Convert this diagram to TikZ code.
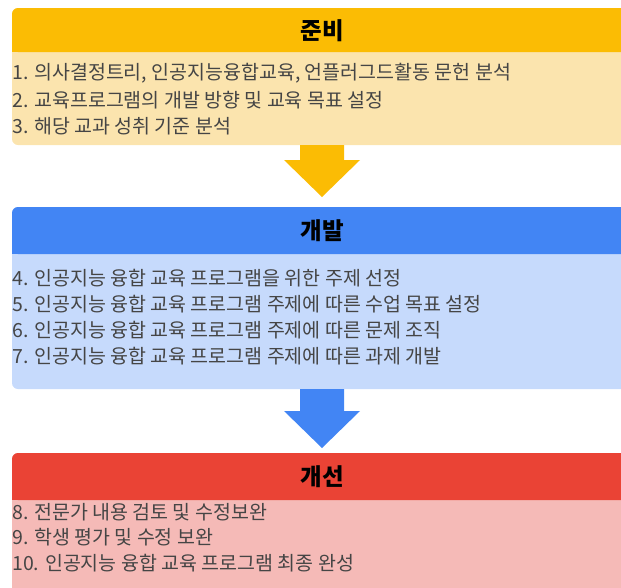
\documentclass[tikz,border=0pt]{standalone}
\usepackage{fontspec}
\setmainfont{Noto Sans CJK KR}
\definecolor{yhead}{HTML}{FBBC04}
\definecolor{ybody}{HTML}{FBE4AE}
\definecolor{bhead}{HTML}{4285F4}
\definecolor{bbody}{HTML}{C6DAFC}
\definecolor{rhead}{HTML}{EA4335}
\definecolor{rbody}{HTML}{F5BAB7}
\definecolor{txt}{HTML}{454545}
\tikzset{
  title/.style={font=\fontsize{23.5}{26}\selectfont\bfseries, text=black, inner sep=0pt},
  item/.style={font=\fontsize{19.5}{22}\selectfont, text=txt, anchor=west, inner sep=0pt},
}
\begin{document}
\begin{tikzpicture}[x=1pt,y=-1pt]
\useasboundingbox (0,0) rectangle (621,587);
\clip (0,0) rectangle (621,587);
% panel 1
\fill[ybody, rounded corners=6] (12,8) rectangle (650,145);
\fill[yhead, rounded corners=6] (12,8) rectangle (650,52);
\fill[yhead] (12,30) rectangle (650,52);
\node[title] (h1) at (322,31) {준비};
\node[item] (t1) at (12,73) {1. 의사결정트리, 인공지능융합교육, 언플러그드활동 문헌 분석};
\node[item] (t2) at (12,100) {2. 교육프로그램의 개발 방향 및 교육 목표 설정};
\node[item] (t3) at (12,126) {3. 해당 교과 성취 기준 분석};
% panel 2
\fill[bbody, rounded corners=6] (12,207) rectangle (650,389);
\fill[bhead, rounded corners=6] (12,207) rectangle (650,254);
\fill[bhead] (12,230) rectangle (650,254);
\node[title] (h2) at (322,231) {개발};
\node[item] (t4) at (12,278) {4. 인공지능 융합 교육 프로그램을 위한 주제 선정};
\node[item] (t5) at (12,304) {5. 인공지능 융합 교육 프로그램 주제에 따른 수업 목표 설정};
\node[item] (t6) at (12,330) {6. 인공지능 융합 교육 프로그램 주제에 따른 문제 조직};
\node[item] (t7) at (12,356) {7. 인공지능 융합 교육 프로그램 주제에 따른 과제 개발};
% panel 3
\fill[rbody, rounded corners=6] (12,453) rectangle (650,600);
\fill[rhead, rounded corners=6] (12,453) rectangle (650,500);
\fill[rhead] (12,476) rectangle (650,500);
\node[title] (h3) at (322,477) {개선};
\node[item] (t8) at (12,512) {8. 전문가 내용 검토 및 수정보완};
\node[item] (t9) at (12,537) {9. 학생 평가 및 수정 보완};
\node[item] (t10) at (12,563) {10. 인공지능 융합 교육 프로그램 최종 완성};
% arrows
\fill[yhead] (300,145) -- (344,145) -- (344,160) -- (360,160) -- (322,197) -- (284,160) -- (300,160) -- cycle;
\fill[bhead] (300,389) -- (344,389) -- (344,411) -- (360,411) -- (322,448) -- (284,411) -- (300,411) -- cycle;
\end{tikzpicture}
\end{document}
